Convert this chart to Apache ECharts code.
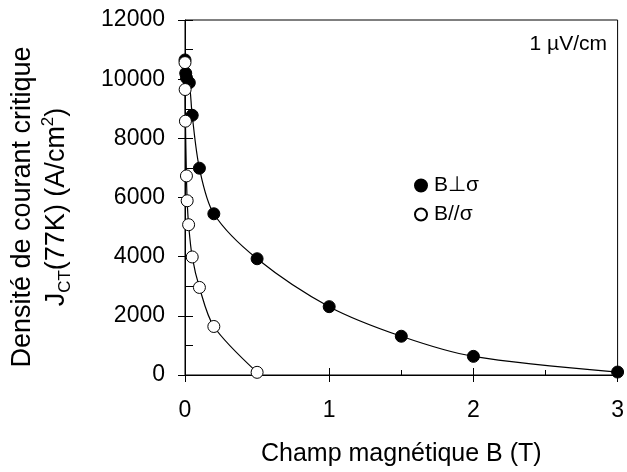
<!DOCTYPE html>
<html>
<head>
<meta charset="utf-8">
<script src="https://cdn.jsdelivr.net/npm/echarts@6/dist/echarts.min.js"></script>
<style>
  html, body { margin: 0; padding: 0; background: #fff; }
  #chart { width: 627px; height: 472px; }
</style>
</head>
<body>
<div id="chart"></div>
<script>
// B perpendiculaire a sigma (points noirs)
var champPerp = [0, 0.005, 0.01, 0.03, 0.05, 0.1, 0.2, 0.5, 1, 1.5, 2, 3];
var jcPerp = [10650, 10200, 10050, 9880, 8780, 6990, 5450, 3930, 2310, 1310, 630, 100];
// B parallele a sigma (points blancs)
var champPara = [0, 0.001, 0.003, 0.01, 0.015, 0.025, 0.05, 0.1, 0.2, 0.5];
var jcPara = [10560, 9650, 8580, 6730, 5890, 5080, 3990, 2960, 1640, 90];
var xTicks = [0, 1, 2, 3];
var yTicks = [0, 2000, 4000, 6000, 8000, 10000, 12000];

function paires(xs, ys) {
    var res = [];
    for (var i = 0; i < xs.length; i++) {
        res.push([xs[i], ys[i]]);
    }
    return res;
}

var chart = echarts.init(document.getElementById('chart'));
var police = 'Liberation Sans, Arial, sans-serif';

var option = {
    animation: false,
    grid: {
        left: 185, right: 8, top: 20, bottom: 95,
        show: true, borderColor: '#000', borderWidth: 1
    },
    legend: {
        orient: 'vertical',
        left: 409,
        top: 170,
        itemGap: 8,
        itemWidth: 12,
        itemHeight: 12,
        icon: 'circle',
        textStyle: { fontSize: 21, color: '#000', fontFamily: police, padding: [0, 0, 0, 2] },
        data: ['B⊥σ', 'B//σ']
    },
    xAxis: [
        {
            type: 'value', min: xTicks[0], max: xTicks[xTicks.length - 1], interval: 1,
            name: 'Champ magnétique B (T)',
            nameLocation: 'middle', nameGap: 67,
            nameTextStyle: { fontSize: 25, color: '#000', fontFamily: police },
            axisLine: { onZero: false, lineStyle: { color: '#000', width: 1 } },
            axisTick: { inside: false, length: 7, lineStyle: { color: '#000' } },
            axisLabel: { fontSize: 23, color: '#000', margin: 24, fontFamily: police,
                formatter: function (v) { return String(v); } },
            splitLine: { show: false }
        },
        {
            type: 'value', position: 'bottom', min: 0, max: 3, interval: 1,
            axisLine: { show: false, onZero: false },
            axisTick: { inside: true, length: 7, lineStyle: { color: '#000' } },
            minorTick: { show: true, splitNumber: 2, length: 5, lineStyle: { color: '#000' } },
            axisLabel: { show: false },
            splitLine: { show: false }
        }
    ],
    yAxis: [
        {
            type: 'value', min: yTicks[0], max: yTicks[yTicks.length - 1], interval: 2000,
            axisLine: { onZero: false, lineStyle: { color: '#000', width: 1 } },
            axisTick: { inside: false, length: 7, lineStyle: { color: '#000' } },
            axisLabel: { fontSize: 23, color: '#000', margin: 20, fontFamily: police,
                formatter: function (v) { return String(v); } },
            splitLine: { show: false }
        },
        {
            type: 'value', position: 'left', min: 0, max: 12000, interval: 2000,
            axisLine: { show: false, onZero: false },
            axisTick: { inside: true, length: 8, lineStyle: { color: '#000' } },
            minorTick: { show: true, splitNumber: 2, length: 8, lineStyle: { color: '#000' } },
            axisLabel: { show: false },
            splitLine: { show: false }
        }
    ],
    graphic: [
        {
            type: 'text',
            x: 607, y: 44,
            style: { text: '1 µV/cm', fontSize: 21, fill: '#000', fontFamily: police,
                align: 'right', verticalAlign: 'middle' }
        },
        {
            type: 'text',
            x: 40, y: 207,
            rotation: Math.PI / 2,
            style: {
                text: '{a|Densité de courant critique}\n{a|J}{sub|CT}{a|(77K) (A/cm}{sup|2}{a|)}',
                align: 'center',
                verticalAlign: 'middle',
                fill: '#000',
                rich: {
                    a: { fontSize: 27, lineHeight: 34, fontFamily: police, fill: '#000' },
                    sub: { fontSize: 17, lineHeight: 34, fontFamily: police, fill: '#000', verticalAlign: 'bottom' },
                    sup: { fontSize: 17, lineHeight: 34, fontFamily: police, fill: '#000', verticalAlign: 'top' }
                }
            }
        }
    ],
    series: [
        {
            name: 'B⊥σ',
            type: 'line',
            smooth: 0.3,
            symbol: 'circle',
            symbolSize: 12,
            lineStyle: { color: '#000', width: 1.2 },
            itemStyle: { color: '#000', borderColor: '#000', borderWidth: 1 },
            data: paires(champPerp, jcPerp),
            z: 3
        },
        {
            name: 'B//σ',
            type: 'line',
            smooth: 0.3,
            symbol: 'circle',
            symbolSize: 12,
            lineStyle: { color: '#000', width: 1.2 },
            itemStyle: { color: '#fff', borderColor: '#000', borderWidth: 1 },
            data: paires(champPara, jcPara),
            z: 4
        }
    ]
};

chart.setOption(option);
</script>
</body>
</html>
